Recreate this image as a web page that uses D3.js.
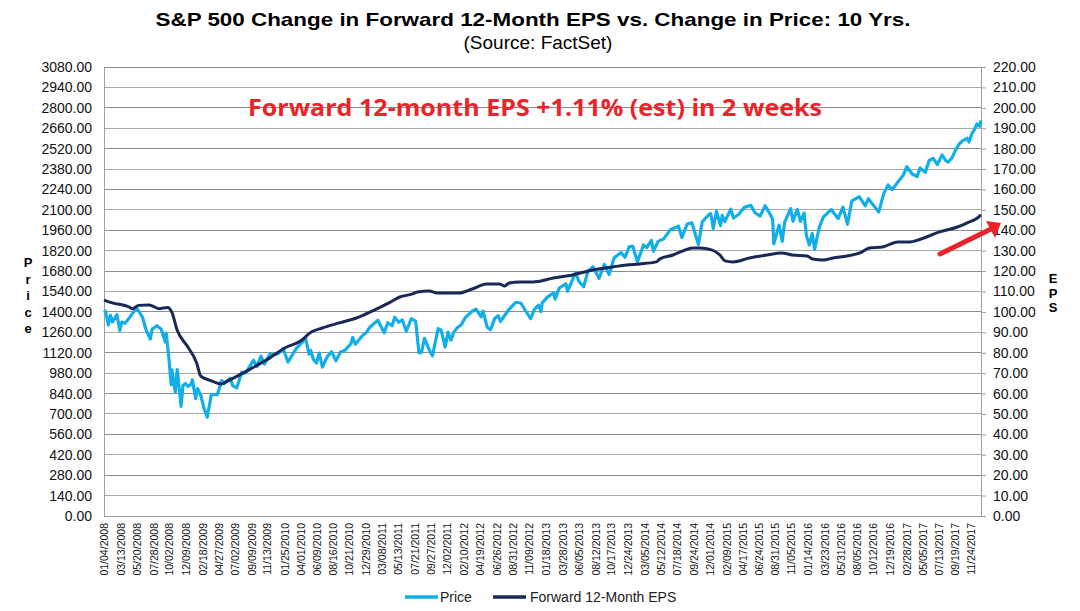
<!DOCTYPE html>
<html><head><meta charset="utf-8">
<script src="https://cdn.jsdelivr.net/npm/d3@7"></script>
<style>body{margin:0;background:#fff}</style>
</head><body><svg id="c" width="1080" height="611"></svg>
<script>
const priceDates = [
"2008-01-04","2008-01-11","2008-01-22","2008-01-31","2008-02-08","2008-02-15","2008-02-27","2008-03-10","2008-03-18","2008-03-31","2008-04-15","2008-04-30","2008-05-19","2008-05-30","2008-06-13","2008-06-27","2008-07-15","2008-07-23","2008-08-11","2008-08-29","2008-09-15","2008-09-19","2008-09-29","2008-10-10","2008-10-13","2008-10-27","2008-11-04","2008-11-20","2008-11-28","2008-12-08","2008-12-19","2008-12-31",
"2009-01-06","2009-01-20","2009-01-28","2009-02-10","2009-02-23","2009-03-09","2009-03-26","2009-04-20","2009-05-08","2009-05-19","2009-06-12","2009-06-23","2009-07-10","2009-07-31","2009-08-17","2009-08-31","2009-09-18","2009-10-02","2009-10-19","2009-11-02","2009-11-25","2009-12-11","2009-12-31",
"2010-01-19","2010-02-08","2010-02-26","2010-03-15","2010-04-23","2010-05-07","2010-05-14","2010-05-25","2010-06-07","2010-06-18","2010-07-02","2010-07-22","2010-08-09","2010-08-27","2010-09-15","2010-10-04","2010-10-29","2010-11-05","2010-11-16","2010-12-15","2010-12-31",
"2011-01-14","2011-02-18","2011-03-16","2011-03-31","2011-04-18","2011-04-29","2011-05-16","2011-05-31","2011-06-16","2011-07-07","2011-07-25","2011-08-08","2011-08-19","2011-08-31","2011-09-22","2011-10-03","2011-10-27","2011-11-08","2011-11-25","2011-12-07","2011-12-19","2011-12-30",
"2012-01-13","2012-01-31","2012-02-17","2012-03-15","2012-04-02","2012-04-23","2012-05-01","2012-05-18","2012-06-01","2012-06-19","2012-07-03","2012-07-12","2012-07-31","2012-08-17","2012-09-14","2012-10-05","2012-10-23","2012-11-15","2012-11-30","2012-12-18","2012-12-28",
"2013-01-02","2013-01-25","2013-02-19","2013-02-25","2013-03-14","2013-04-11","2013-04-18","2013-05-21","2013-06-05","2013-06-24","2013-07-12","2013-08-02","2013-08-27","2013-09-18","2013-10-08","2013-10-29","2013-11-27","2013-12-13","2013-12-31",
"2014-01-15","2014-02-03","2014-02-28","2014-03-14","2014-04-02","2014-04-11","2014-04-30","2014-05-23","2014-06-20","2014-07-24","2014-08-07","2014-08-29","2014-09-18","2014-10-15","2014-10-31","2014-11-28","2014-12-05","2014-12-16","2014-12-29",
"2015-01-15","2015-01-22","2015-02-02","2015-02-27","2015-03-10","2015-03-31","2015-04-24","2015-05-21","2015-06-08","2015-06-29","2015-07-20","2015-08-07","2015-08-20","2015-08-25","2015-09-16","2015-09-29","2015-10-09","2015-11-03","2015-11-13","2015-12-01","2015-12-14","2015-12-29",
"2016-01-08","2016-01-20","2016-02-01","2016-02-11","2016-03-01","2016-03-18","2016-04-20","2016-05-19","2016-06-08","2016-06-27","2016-07-15","2016-08-15","2016-09-09","2016-09-22","2016-10-13","2016-11-04","2016-11-25","2016-12-13","2016-12-30",
"2017-01-26","2017-02-14","2017-03-01","2017-03-22","2017-04-13","2017-04-25","2017-05-17","2017-06-02","2017-06-19","2017-07-06","2017-07-26","2017-08-10","2017-08-21","2017-09-05","2017-09-19","2017-10-05","2017-10-20","2017-11-07","2017-11-15","2017-11-28","2017-12-04","2017-12-18","2017-12-29",
"2018-01-03"];
const priceValues = [
1411,1401,1310,1378,1331,1349,1381,1273,1330,1322,1351,1386,1426,1400,1360,1278,1214,1282,1305,1283,1193,1255,1106,899,1003,848,1005,752,896,909,888,903,
935,805,874,827,743,677,832,832,929,908,946,895,879,987,980,1021,1068,1025,1097,1042,1110,1106,1115,
1150,1056,1104,1150,1217,1111,1136,1074,1050,1117,1022,1093,1127,1065,1125,1137,1183,1225,1178,1236,1258,
1293,1343,1256,1326,1305,1364,1329,1345,1268,1353,1337,1119,1124,1219,1130,1099,1285,1276,1159,1261,1206,1258,
1289,1312,1361,1403,1419,1366,1406,1295,1278,1357,1374,1334,1379,1418,1466,1461,1413,1353,1416,1446,1402,
1462,1503,1531,1488,1563,1593,1541,1669,1608,1573,1680,1710,1630,1726,1656,1772,1807,1775,1848,
1849,1742,1859,1841,1891,1816,1884,1901,1963,1988,1910,2003,2011,1862,2018,2068,2075,1973,2090,
1992,2063,2020,2105,2044,2068,2117,2131,2080,2057,2128,2078,2036,1867,1996,1884,2014,2109,2023,2103,2021,2078,
1922,1859,1939,1829,1978,2050,2102,2040,2119,2001,2162,2190,2128,2177,2132,2085,2213,2271,2239,
2298,2337,2396,2348,2329,2388,2357,2439,2453,2410,2477,2438,2428,2457,2506,2552,2575,2591,2565,2627,2639,2690,2674,
2713];
const epsDates = [
"2008-01-04","2008-02-08","2008-04-18","2008-05-01","2008-05-28","2008-07-10","2008-08-20","2008-09-25","2008-10-12","2008-11-04","2008-12-17",
"2009-01-24","2009-02-10","2009-03-18","2009-05-08","2009-05-26","2009-07-20","2009-09-12","2009-11-10",
"2010-02-03","2010-03-29","2010-04-10","2010-05-08","2010-07-01","2010-09-10","2010-11-20",
"2011-01-25","2011-04-05","2011-05-20","2011-07-12","2011-08-01","2011-09-20","2011-10-20",
"2012-01-22","2012-03-17","2012-05-15","2012-07-08","2012-07-30","2012-08-18","2012-10-01","2012-11-25",
"2013-02-18","2013-05-08","2013-07-31","2013-10-22","2013-12-20",
"2014-02-13","2014-04-22","2014-05-08","2014-07-01","2014-08-12","2014-09-20","2014-10-20","2014-12-12",
"2015-01-12","2015-02-03","2015-03-08","2015-05-15","2015-07-27","2015-09-27","2015-11-10",
"2016-01-10","2016-02-03","2016-03-18","2016-04-28","2016-06-25","2016-08-18","2016-09-26","2016-11-20",
"2017-01-22","2017-03-14","2017-05-22","2017-07-16","2017-08-15","2017-09-28","2017-11-07","2017-12-20",
"2018-01-04"];
const epsValues = [
105.8,104.4,102.4,101.6,103.2,103.4,101.6,102.2,100,91,83,
75,68.5,66.6,64.7,65.7,69,72.5,76.4,
82.8,85.5,86.5,89.5,92.1,94.6,97,
100.4,104.4,107.3,108.8,109.8,110.3,109.3,
109.3,111.2,113.7,113.7,112.7,114.2,114.7,114.7,
116.6,118.1,120.5,122,123,
123.5,124.5,126,127.9,129.9,131.3,131.3,130.3,
127.9,125,124.5,126.4,127.9,128.9,127.9,
127.4,125.9,125.4,126.4,127.4,128.9,131.3,131.8,
134.3,134.3,136.7,139.2,140.1,141.6,143.6,146,
147.5];
const xTickLabels = ["01/04/2008","03/13/2008","05/20/2008","07/28/2008","10/02/2008","12/09/2008","02/18/2009","04/27/2009","07/02/2009","09/09/2009","11/13/2009","01/25/2010","04/01/2010","06/09/2010","08/16/2010","10/21/2010","12/29/2010","03/08/2011","05/13/2011","07/21/2011","09/27/2011","12/02/2011","02/10/2012","04/19/2012","06/26/2012","08/31/2012","11/09/2012","01/18/2013","03/28/2013","06/05/2013","08/12/2013","10/17/2013","12/24/2013","03/05/2014","05/12/2014","07/18/2014","09/24/2014","12/01/2014","02/09/2015","04/17/2015","06/24/2015","08/31/2015","11/05/2015","01/14/2016","03/23/2016","05/31/2016","08/05/2016","10/12/2016","12/19/2016","02/28/2017","05/05/2017","07/13/2017","09/19/2017","11/24/2017"];
const priceTicks = [0,140,280,420,560,700,840,980,1120,1260,1400,1540,1680,1820,1960,2100,2240,2380,2520,2660,2800,2940,3080];
const epsTicks = [0,10,20,30,40,50,60,70,80,90,100,110,120,130,140,150,160,170,180,190,200,210,220];
const seriesNames = ["Price","Forward 12-Month EPS"];
const titleText = "S&P 500 Change in Forward 12-Month EPS vs. Change in Price: 10 Yrs.";
const subtitleText = "(Source: FactSet)";
const noteText = "Forward 12-month EPS +1.11% (est) in 2 weeks";

const svg = d3.select("#c");
const L = 104, R = 981, T = 67, B = 516;
const parse = d3.timeParse("%Y-%m-%d");
const parseLbl = d3.timeParse("%m/%d/%Y");
const x = d3.scaleTime().domain([parse("2008-01-04"), parse("2018-01-04")]).range([L, R]);
const yP = d3.scaleLinear().domain([0, 3080]).range([B, T]);
const yE = d3.scaleLinear().domain([0, 220]).range([B, T]);
const font = "'Liberation Sans', Arial, sans-serif";
const cPrice = "#11aeea", cEps = "#1a2858";

// gridlines
svg.append("g").selectAll("line").data(priceTicks).join("line")
  .attr("x1", L).attr("x2", R).attr("y1", d => yP(d)).attr("y2", d => yP(d))
  .attr("stroke", (d,i) => (i % 2 === 0) ? "#8c8c8c" : "#a8a8a8").attr("stroke-width", 1)
  .attr("shape-rendering", "crispEdges");

// left axis
const gl = svg.append("g").attr("transform", `translate(${L},0)`)
  .call(d3.axisLeft(yP).tickValues(priceTicks).tickFormat(d3.format(".2f")).tickSize(0).tickPadding(12));
gl.select(".domain").attr("stroke", "#a0a0a0").attr("shape-rendering", "crispEdges");
gl.selectAll("text").attr("font-family", font).attr("font-size", 14).attr("fill", "#111");

// right axis
const gr = svg.append("g").attr("transform", `translate(${R},0)`)
  .call(d3.axisRight(yE).tickValues(epsTicks).tickFormat(d3.format(".2f")).tickSize(5).tickSizeOuter(0).tickPadding(7));
gr.select(".domain").attr("stroke", "#a0a0a0").attr("shape-rendering", "crispEdges");
gr.selectAll("line").attr("stroke", "#a0a0a0");
gr.selectAll("text").attr("font-family", font).attr("font-size", 14).attr("fill", "#111");

// bottom axis
const gb = svg.append("g").attr("transform", `translate(0,${B})`)
  .call(d3.axisBottom(x).tickValues(xTickLabels.map(parseLbl)).tickFormat(d3.timeFormat("%m/%d/%Y")).tickSize(0).tickSizeOuter(0));
gb.select(".domain").attr("stroke", "#a0a0a0").attr("shape-rendering", "crispEdges");
gb.selectAll("text").attr("font-family", font).attr("font-size", 10.5).attr("fill", "#111")
  .attr("transform", "rotate(-90)").attr("text-anchor", "end").attr("dy", "0.35em").attr("x", -7).attr("y", 0);

// lines
const pData = priceDates.map((d, i) => [parse(d), priceValues[i]]);
const eData = epsDates.map((d, i) => [parse(d), epsValues[i]]);
svg.append("path").datum(pData)
  .attr("d", d3.line().x(d => x(d[0])).y(d => yP(d[1])))
  .attr("fill", "none").attr("stroke", cPrice).attr("stroke-width", 3.2).attr("stroke-linejoin", "round");
svg.append("path").datum(eData)
  .attr("d", d3.line().curve(d3.curveMonotoneX).x(d => x(d[0])).y(d => yE(d[1])))
  .attr("fill", "none").attr("stroke", cEps).attr("stroke-width", 3).attr("stroke-linejoin", "round");

// titles
svg.append("text").attr("x", 533).attr("y", 26).attr("text-anchor", "middle")
  .attr("font-family", font).attr("font-weight", "bold").attr("font-size", 18.5)
  .attr("textLength", 755).attr("lengthAdjust", "spacingAndGlyphs").attr("fill", "#000").text(titleText);
svg.append("text").attr("x", 538).attr("y", 49).attr("text-anchor", "middle")
  .attr("font-family", font).attr("font-size", 19).attr("fill", "#000").text(subtitleText);

// axis titles (stacked letters)
const leftT = svg.append("text").attr("font-family", font).attr("font-weight", "bold").attr("font-size", 13).attr("text-anchor", "middle");
"Price".split("").forEach((ch, i) => leftT.append("tspan").attr("x", 28).attr("y", 267 + i * 16.5).text(ch));
const rightT = svg.append("text").attr("font-family", font).attr("font-weight", "bold").attr("font-size", 13).attr("text-anchor", "middle");
"EPS".split("").forEach((ch, i) => rightT.append("tspan").attr("x", 1053).attr("y", 283 + i * 14.5).text(ch));

// annotation
svg.append("text").attr("x", 535).attr("y", 116).attr("text-anchor", "middle")
  .attr("font-family", "'Open Sans', 'Noto Sans', sans-serif").attr("font-weight", "bold").attr("font-size", 24)
  .attr("textLength", 574).attr("lengthAdjust", "spacingAndGlyphs").attr("fill", "#ee2229").text(noteText);
svg.append("line").attr("x1", 940).attr("y1", 254).attr("x2", 991).attr("y2", 229)
  .attr("stroke", "#ee2229").attr("stroke-width", 5).attr("stroke-linecap", "round");
svg.append("path").attr("d", "M1001,223 L986,221 L995,238 Z").attr("fill", "#ee2229");

// legend
const lg = svg.append("g");
[[405, 440, cPrice, seriesNames[0]], [493, 530, cEps, seriesNames[1]]].forEach(([lx, tx, c, name]) => {
  lg.append("line").attr("x1", lx).attr("x2", lx + 33).attr("y1", 597).attr("y2", 597).attr("stroke", c).attr("stroke-width", 3.5);
  lg.append("text").attr("x", tx).attr("y", 602).attr("font-family", font).attr("font-size", 14).attr("fill", "#222").text(name);
});
</script></body></html>
